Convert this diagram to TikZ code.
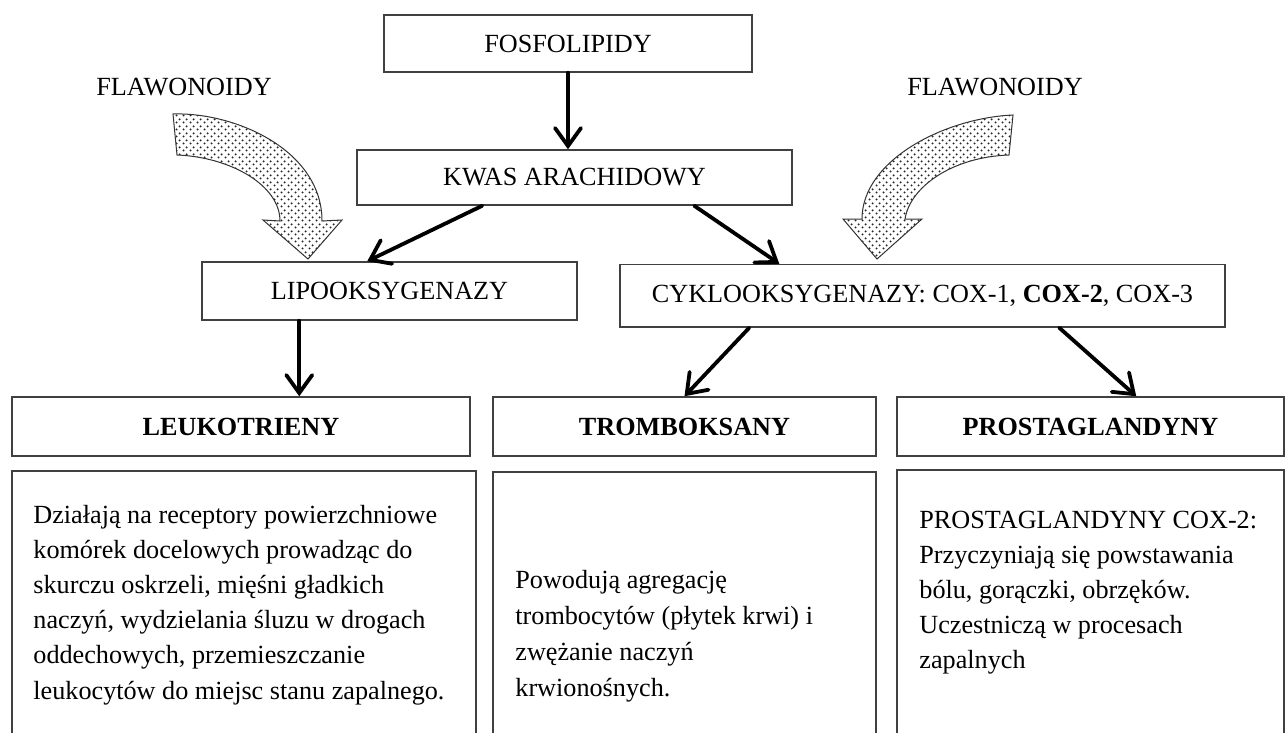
\documentclass[tikz,border=0pt]{standalone}
\usepackage{fontspec}
\setmainfont{Liberation Serif}
\usetikzlibrary{arrows.meta,patterns.meta,calc}
\pgfdeclarepattern{
  name=mydots,
  type=uncolored,
  bottom left={\pgfpoint{0pt}{0pt}},
  top right={\pgfpoint{3.5pt}{3.5pt}},
  tile size={\pgfpoint{3.5pt}{3.5pt}},
  code={
    \pgfpathcircle{\pgfpoint{0.875pt}{0.875pt}}{0.6pt}
    \pgfpathcircle{\pgfpoint{2.625pt}{2.625pt}}{0.6pt}
    \pgfusepath{fill}
  }
}
\begin{document}
\begin{tikzpicture}[x=0.5pt,y=-0.5pt,
  box/.style={draw=black!75, line width=0.75pt, inner sep=0pt, font=\fontsize{13.1}{15}\selectfont},
  headbox/.style={box, font=\fontsize{13.1}{15}\selectfont\bfseries},
  flowarrow/.style={line width=1.9pt, line cap=round, -{Straight Barb[length=9pt,width=13pt,line cap=round]}},
  bodytxt/.style={anchor=base west, inner sep=0pt},
  flavtxt/.style={anchor=base, inner sep=0pt, font=\fontsize{13.1}{15}\selectfont},
  flavarrow/.style={draw=black!80, line width=0.5pt, pattern={mydots}, pattern color=black!85},
  openbox/.style={draw=black!75, line width=0.75pt}]
\useasboundingbox (0,0) rectangle (1285,733);

% main boxes
\node[box, minimum width=184pt, minimum height=28.5pt] (fos) at (568,43.5) {FOSFOLIPIDY};
\node[box, minimum width=217.5pt, minimum height=27.5pt] (kwas) at (574.5,177.5) {KWAS ARACHIDOWY};
\node[box, minimum width=187.5pt, minimum height=29pt] (lipo) at (389.5,291) {LIPOOKSYGENAZY};
\node[box, minimum width=302.5pt, minimum height=31.25pt] (cyklo) at (922.5,295.75) {CYKLOOKSYGENAZY: COX-1, \textbf{COX-2}, COX-3};
\node[headbox, minimum width=229pt, minimum height=29.5pt] (leuko) at (241,426.5) {LEUKOTRIENY};
\node[headbox, minimum width=191.5pt, minimum height=29.5pt] (tromb) at (684.5,426.5) {TROMBOKSANY};
\node[headbox, minimum width=193.5pt, minimum height=29.5pt] (prost) at (1090.5,426.5) {PROSTAGLANDYNY};

% open description boxes
\draw[openbox] (12,733) -- (12,471) -- (476,471) -- (476,733);
\draw[openbox] (493,733) -- (493,472) -- (876,472) -- (876,733);
\draw[openbox] (897,733) -- (897,470) -- (1284,470) -- (1284,733);

% description texts
\node[bodytxt, font=\fontsize{13.1}{17.6}\selectfont] (leukotxt) at (33,523) {\begin{tabular}[t]{@{}l@{}}Działają na receptory powierzchniowe\\ komórek docelowych prowadząc do\\ skurczu oskrzeli, mięśni gładkich\\ naczyń, wydzielania śluzu w drogach\\ oddechowych, przemieszczanie\\ leukocytów do miejsc stanu zapalnego.\end{tabular}};
\node[bodytxt, font=\fontsize{13.1}{18}\selectfont] (trombtxt) at (515,588) {\begin{tabular}[t]{@{}l@{}}Powodują agregację\\ trombocytów (płytek krwi) i\\ zwężanie naczyń\\ krwionośnych.\end{tabular}};
\node[bodytxt, font=\fontsize{13.1}{17.5}\selectfont] (prosttxt) at (919,528) {\begin{tabular}[t]{@{}l@{}}PROSTAGLANDYNY COX-2:\\ Przyczyniają się powstawania\\ bólu, gorączki, obrzęków.\\ Uczestniczą w procesach\\ zapalnych\end{tabular}};

% flavonoid labels
\node[flavtxt] (flavL) at (184,96) {FLAWONOIDY};
\node[flavtxt] (flavR) at (995,96) {FLAWONOIDY};

% dotted curved arrows
\draw[flavarrow] (173,114) .. controls (235,112) and (322,150) .. (322,221)
  -- (342,220) -- (308,259) -- (263,220) -- (280,221)
  .. controls (280,185) and (230,157) .. (177,155) -- cycle;
\draw[flavarrow] (1013,115) .. controls (945,118) and (862,160) .. (862,219)
  -- (843,219) -- (877,259) -- (922,219) -- (905,219)
  .. controls (910,187) and (952,157) .. (1009,155) -- cycle;

% connectors
\draw[flowarrow] (fos.south) -- (fos.south |- kwas.north);
\draw[flowarrow] ($(kwas.south west)+(126,0)$) -- ($(lipo.north west)+(166,0)$);
\draw[flowarrow] ($(kwas.south west)+(338,0)$) -- ($(cyklo.north west)+(160,0)$);
\draw[flowarrow] ($(lipo.south west)+(98,0)$) coordinate (ls) -- (ls |- leuko.north);
\draw[flowarrow] ($(cyklo.south west)+(130,0)$) -- (tromb.north);
\draw[flowarrow] ($(cyklo.south west)+(440,0)$) -- ($(prost.north west)+(240,0)$);
\end{tikzpicture}
\end{document}
